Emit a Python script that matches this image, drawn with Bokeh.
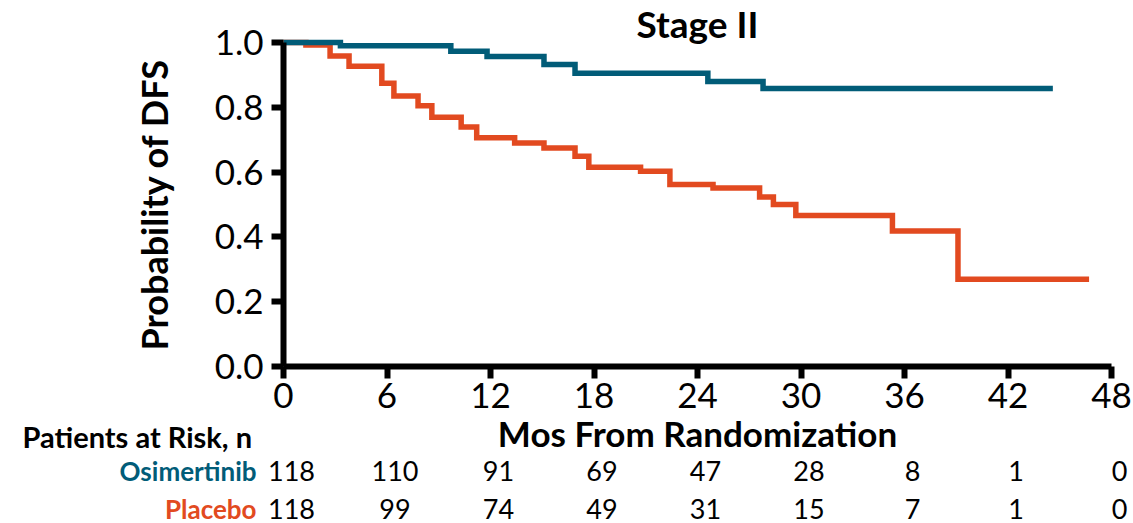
from bokeh.plotting import figure
from bokeh.models import Range1d, FixedTicker, PrintfTickFormatter
from bokeh.core.properties import value
from bokeh.embed import file_html
from bokeh.resources import INLINE

# Kaplan-Meier DFS estimates, stage II
osi_months = [0, 3.3, 9.7, 11.8, 15.1, 16.9, 24.6, 27.8, 44.6]
osi_surv = [1.0, 0.99, 0.973, 0.957, 0.932, 0.905, 0.88, 0.858, 0.858]

pla_months = [0, 1.3, 2.7, 3.8, 5.7, 6.4, 7.8, 8.6, 10.3, 11.2, 13.4, 15.1,
              16.9, 17.7, 20.7, 22.4, 24.9, 27.6, 28.4, 29.7, 35.3, 39.1, 46.7]
pla_surv = [1.0, 0.992, 0.958, 0.927, 0.874, 0.835, 0.805, 0.769, 0.739, 0.706,
            0.69, 0.674, 0.649, 0.615, 0.603, 0.562, 0.551, 0.523, 0.5, 0.466,
            0.418, 0.269, 0.269]

# patients at risk table
risk_months = [0, 6, 12, 18, 24, 30, 36, 42, 48]
osi_at_risk = [118, 110, 91, 69, 47, 28, 8, 1, 0]
pla_at_risk = [118, 99, 74, 49, 31, 15, 7, 1, 0]

x_ticks = [0, 6, 12, 18, 24, 30, 36, 42, 48]
y_ticks = [0.0, 0.2, 0.4, 0.6, 0.8, 1.0]

OSI_COLOR = "#015C78"
PLA_COLOR = "#E24A20"
FONT = "Lato"

# canvas geometry: the data frame fills the canvas, axes sit at the origin
W, H = 1133, 523
ORIGIN_X, ORIGIN_Y = 283, 366        # pixel position of (0 months, 0.0)
PX_PER_MONTH = 17.25
PX_PER_UNIT = 324.0


def mx(px):
    return (px - ORIGIN_X) / PX_PER_MONTH


def sy(py):
    return (ORIGIN_Y - py) / PX_PER_UNIT


p = figure(width=W, height=H, output_backend="svg", toolbar_location=None,
           x_range=Range1d(mx(0), mx(W)), y_range=Range1d(sy(H), sy(0)),
           min_border=0)
p.outline_line_color = None
p.xgrid.visible = False
p.ygrid.visible = False
p.background_fill_color = "white"
p.border_fill_color = "white"

p.step(pla_months, pla_surv, mode="after", line_color=PLA_COLOR,
       line_width=5.5, line_join="miter")
p.step(osi_months, osi_surv, mode="after", line_color=OSI_COLOR,
       line_width=5.5, line_join="miter")

for ax in (p.xaxis[0], p.yaxis[0]):
    ax.fixed_location = 0
    ax.axis_line_width = 6
    ax.axis_line_color = "black"
    ax.major_tick_line_width = 6
    ax.major_tick_line_color = "black"
    ax.major_tick_in = 0
    ax.major_tick_out = 12
    ax.minor_tick_line_color = None
    ax.major_label_text_font = FONT
    ax.major_label_text_font_size = "35px"
    ax.major_label_text_color = "black"
    ax.axis_label_text_font = FONT
    ax.axis_label_text_font_style = "bold"
    ax.axis_label_text_color = "black"

p.xaxis.ticker = FixedTicker(ticks=x_ticks)
p.xaxis.bounds = (0, 48)
p.xaxis.major_label_standoff = 4
p.xaxis.axis_label = "Mos From Randomization"
p.xaxis.axis_label_text_font_size = "35px"
p.xaxis.axis_label_standoff = 1

p.yaxis.ticker = FixedTicker(ticks=y_ticks)
p.yaxis.bounds = (0, 1)
p.yaxis.formatter = PrintfTickFormatter(format="%.1f")
p.yaxis.major_label_standoff = 8
p.yaxis.axis_label = "Probability of DFS"
p.yaxis.axis_label_text_font_size = "36px"
p.yaxis.axis_label_standoff = 36

# panel title
p.text(x=[24], y=[sy(23)], text=["Stage II"], text_align="center",
       text_baseline="middle", text_font=value(FONT), text_font_style="bold",
       text_font_size="37px", text_color="black")

# patients-at-risk table under the time axis
p.text(x=[mx(22)], y=[sy(436)], text=["Patients at Risk, n"],
       text_align="left", text_baseline="middle", text_font=value(FONT),
       text_font_style="bold", text_font_size="29px", text_color="black")

rows = [("Osimertinib", osi_at_risk, OSI_COLOR, sy(470)),
        ("Placebo", pla_at_risk, PLA_COLOR, sy(508))]
for name, counts, color, row_y in rows:
    p.text(x=[mx(256)], y=[row_y], text=[name], text_align="right",
           text_baseline="middle", text_font=value(FONT),
           text_font_style="bold", text_font_size="26px", text_color=color)
    p.text(x=risk_months, y=[row_y] * len(risk_months),
           text=[str(c) for c in counts], text_align="center",
           text_baseline="middle", x_offset=8, text_font=value(FONT),
           text_font_size="27px", text_color="black")

open("out.html", "w").write(file_html(p, INLINE))
